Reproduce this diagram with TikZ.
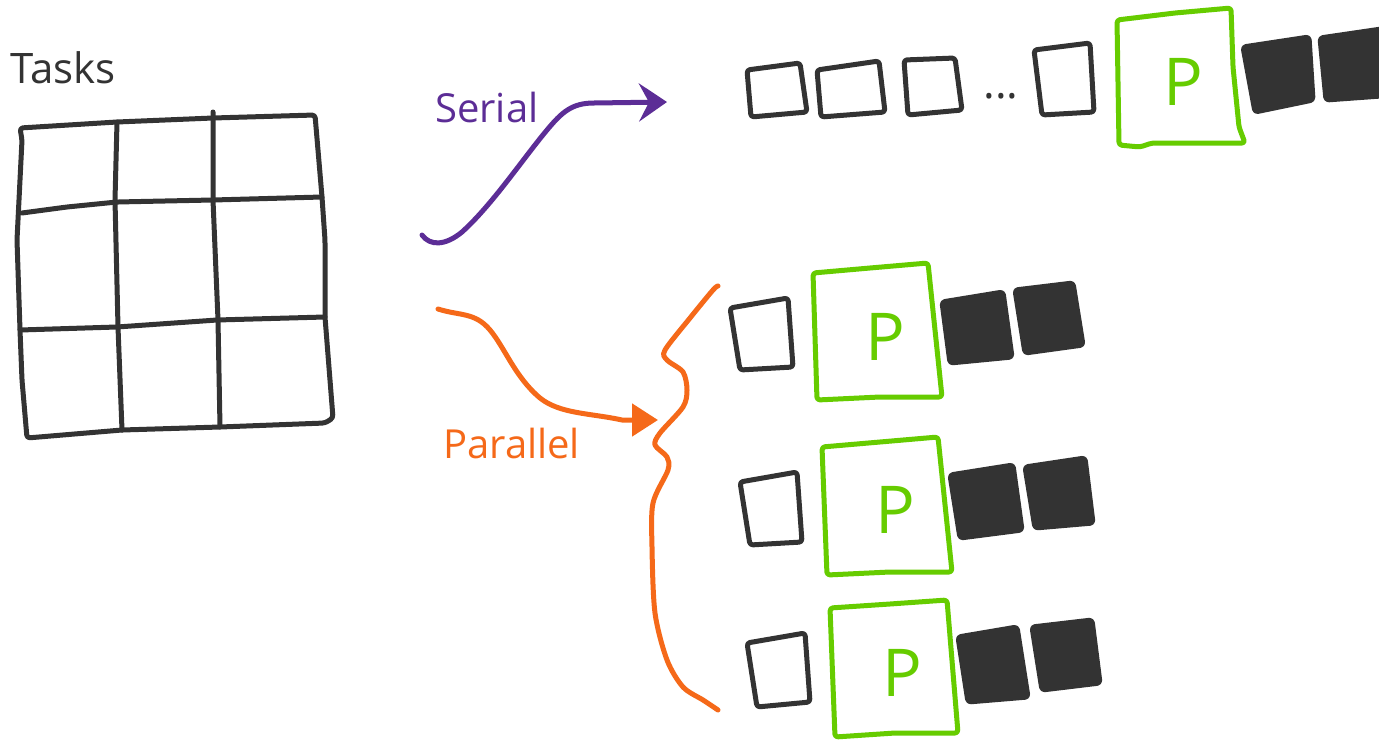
\documentclass[tikz,border=0pt]{standalone}
\usepackage{fontspec}
\setmainfont{Open Sans}
\usetikzlibrary{arrows.meta}
\definecolor{ink}{RGB}{51,51,51}
\definecolor{procgreen}{RGB}{102,204,0}
\definecolor{serialc}{RGB}{92,45,150}
\definecolor{parac}{RGB}{245,105,25}
\tikzset{
  pen/.style={line width=5pt, line cap=round, line join=round, rounded corners=3pt},
  inkpen/.style={pen, draw=ink},
  greenpen/.style={pen, draw=procgreen},
  donebox/.style={pen, draw=ink, fill=ink},
  pnode/.style={text=procgreen, font=\fontsize{66}{70}\selectfont, inner sep=0pt},
  lbl/.style={inner sep=0pt, anchor=base west},
}
\newcommand\qbox[5]{\draw[#1] #2 -- #3 -- #4 -- #5 -- cycle;}
\begin{document}
\begin{tikzpicture}[x=1pt,y=-1pt]
\useasboundingbox[fill=white] (0,0) rectangle (1379,742);

% ---- Tasks grid ----
\node[lbl, text=ink, font=\fontsize{42}{46}\selectfont] (tasks) at (10,83) {Tasks};
\draw[inkpen] (20,128) -- (117,122) -- (213,118) -- (315,115) -- (322,197) -- (325,240)
  -- (325,317) -- (333,418) -- (325,423) -- (220,427) -- (122,430) -- (27,438)
  -- (22,380) -- (20,330) -- (17,240) -- (22,140) -- cycle;
\draw[inkpen] (117,122) -- (115,200) -- (118,327) -- (122,430);
\draw[inkpen] (213,112) -- (213,200) -- (218,320) -- (220,427);
\draw[inkpen] (22,213) -- (67,207) -- (117,202) -- (213,200) -- (322,197);
\draw[inkpen] (20,330) -- (117,327) -- (217,320) -- (325,317);

% ---- Serial ----
\node[lbl, text=serialc, font=\fontsize{40}{44}\selectfont] (serial) at (435,122) {Serial};
\coordinate (serA) at (422,235);
\coordinate (serB) at (667,102);
\draw[pen, rounded corners=0pt, draw=serialc, -{Stealth[length=28pt,width=38pt,inset=10pt]}]
  (serA) .. controls (430,246) and (445,246) .. (462,232)
  .. controls (492,205) and (522,160) .. (547,130)
  .. controls (562,112) and (572,103) .. (594,103) -- (serB);

% top row
\qbox{inkpen}{(747,70)}{(800,63)}{(807,112)}{(751,117)}
\qbox{inkpen}{(817,70)}{(879,61)}{(885,112)}{(821,117)}
\qbox{inkpen}{(904,60)}{(955,58)}{(962,110)}{(908,115)}
\node[text=ink, font=\fontsize{44}{48}\selectfont, inner sep=0pt, anchor=base] (dots) at (1001,98) {...};
\qbox{inkpen}{(1034,50)}{(1090,43)}{(1094,112)}{(1042,115)}
\draw[greenpen] (1117,20) -- (1175,13) -- (1231,8) -- (1233,67) -- (1239,127) -- (1245,143)
  -- (1152,143) -- (1140,147) -- (1119,145) -- cycle;
\node[pnode] (p0) at (1183,82) {P};
\qbox{donebox}{(1243,47)}{(1309,37)}{(1313,100)}{(1255,112)}
\qbox{donebox}{(1320,38)}{(1395,27)}{(1395,95)}{(1326,100)}

% ---- Parallel ----
\node[lbl, text=parac, font=\fontsize{40}{44}\selectfont] (parallel) at (443,458) {Parallel};
\coordinate (parA) at (438,309);
\coordinate (parB) at (658,420);
\draw[pen, rounded corners=0pt, draw=parac, -{Triangle[length=26pt,width=32pt]}]
  (parA) .. controls (460,316) and (475,312) .. (490,330)
  .. controls (505,348) and (515,377) .. (540,398)
  .. controls (560,414) and (590,413) .. (622,420) -- (parB);
\draw[pen, rounded corners=0pt, draw=parac] plot[smooth, tension=0.5] coordinates {
  (718,286) (713,290) (690,318) (665,350) (667,360) (683,372) (687,390) (683,407)
  (660,433) (655,445) (667,457) (668,470) (653,503) (652,547) (655,613) (667,660)
  (683,687) (703,700) (718,710)};

% row 1
\qbox{inkpen}{(730,308)}{(788,298)}{(793,367)}{(740,370)}
\draw[greenpen] (813,273) -- (870,268) -- (928,263) -- (942,397) -- (880,397) -- (817,400) -- cycle;
\node[pnode] (p1) at (885,337) {P};
\qbox{donebox}{(942,302)}{(1003,292)}{(1012,357)}{(950,363)}
\qbox{donebox}{(1015,290)}{(1073,283)}{(1083,345)}{(1025,353)}

% row 2
\qbox{inkpen}{(740,482)}{(797,472)}{(802,542)}{(750,545)}
\draw[greenpen] (822,447) -- (880,442) -- (938,437) -- (952,572) -- (890,572) -- (827,575) -- cycle;
\node[pnode] (p2) at (895,510) {P};
\qbox{donebox}{(950,475)}{(1013,465)}{(1022,530)}{(960,538)}
\qbox{donebox}{(1025,467)}{(1085,458)}{(1093,523)}{(1035,528)}

% row 3
\qbox{inkpen}{(747,643)}{(805,633)}{(810,702)}{(757,707)}
\draw[greenpen] (830,608) -- (890,604) -- (947,600) -- (958,733) -- (895,733) -- (835,737) -- cycle;
\node[pnode] (p3) at (902,673) {P};
\qbox{donebox}{(958,637)}{(1017,627)}{(1028,697)}{(968,702)}
\qbox{donebox}{(1032,627)}{(1092,620)}{(1100,683)}{(1042,690)}
\end{tikzpicture}
\end{document}
